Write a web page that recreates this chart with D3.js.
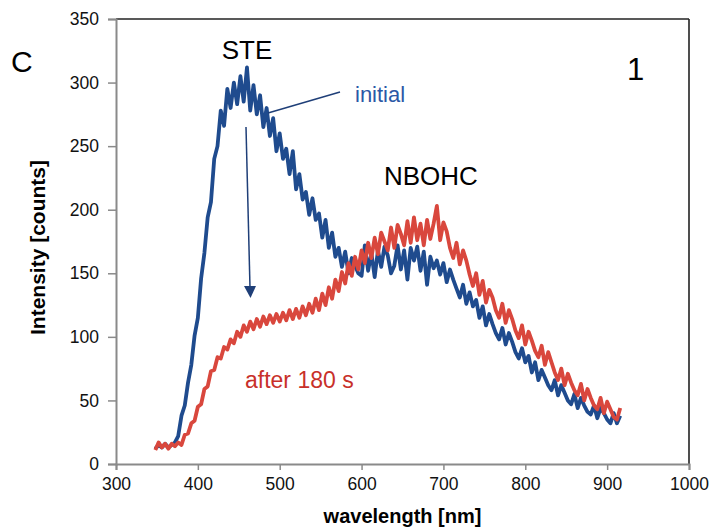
<!DOCTYPE html>
<html lang="en">
<head>
<meta charset="UTF-8">
<title>Spectrum C1</title>
<script src="https://d3js.org/d3.v7.min.js"></script>
<style>
    body { margin: 0; background: #fff; }
    text { font-family: "Liberation Sans", Arial, sans-serif; }
    .tick text { font-size: 17.5px; fill: #111; }
</style>
</head>
<body>
<div id="chart"></div>
<script>
    // sampling grid of the spectrometer, nm
    const wavelength = d3.range(348, 917, 4);

    // intensity before irradiation (counts)
    const initial = [
        12, 15, 13, 16, 13, 15, 17, 22, 38, 46, 64, 78, 101, 115, 146, 166, 194, 206, 240, 250,
        278, 266, 295, 280, 300, 283, 305, 285, 312, 278, 298, 275, 290, 265, 280, 258, 272, 246, 260, 240,
        248, 228, 246, 216, 228, 208, 214, 196, 209, 192, 197, 178, 192, 170, 182, 163, 170, 155, 167, 150,
        162, 156, 150, 148, 172, 152, 166, 147, 168, 155, 171, 164, 150, 156, 172, 153, 168, 145, 170, 160,
        171, 152, 167, 141, 163, 154, 160, 149, 158, 143, 153, 145, 138, 131, 141, 126, 135, 124, 129, 115,
        124, 109, 118, 110, 103, 98, 107, 94, 103, 96, 88, 83, 91, 80, 85, 72, 80, 66, 74, 68,
        62, 58, 66, 54, 62, 56, 50, 47, 55, 44, 52, 46, 41, 39, 46, 36, 44, 40, 35, 32,
        40, 32, 38
    ];

    // intensity after 180 s (counts)
    const after180 = [
        11, 17, 13, 16, 12, 16, 14, 17, 15, 23, 24, 32, 34, 45, 47, 59, 61, 73, 74, 84,
        83, 92, 90, 98, 95, 104, 100, 109, 104, 112, 106, 114, 108, 116, 110, 117, 111, 118, 112, 119,
        113, 121, 114, 122, 115, 124, 117, 126, 119, 130, 121, 134, 125, 139, 130, 145, 136, 151, 142, 158,
        148, 163, 153, 168, 158, 174, 162, 178, 165, 182, 175, 168, 186, 170, 188, 181, 172, 191, 174, 194,
        176, 189, 172, 192, 177, 189, 203, 176, 190, 183, 170, 162, 174, 157, 168, 160, 149, 140, 150, 133,
        144, 127, 137, 131, 121, 115, 126, 111, 121, 114, 105, 99, 109, 94, 104, 97, 89, 84, 93, 78,
        88, 80, 72, 66, 75, 62, 71, 64, 58, 54, 63, 50, 59, 52, 46, 43, 52, 40, 49, 43,
        37, 35, 44
    ];

    const xTicks = [300, 400, 500, 600, 700, 800, 900, 1000];
    const yTicks = [0, 50, 100, 150, 200, 250, 300, 350];

    const W = 716, H = 530;
    const margin = { top: 19, right: 27, bottom: 66, left: 116 };

    const svg = d3.select("#chart").append("svg")
        .attr("width", W)
        .attr("height", H);

    const x = d3.scaleLinear().domain([300, 1000]).range([margin.left, W - margin.right]);
    const y = d3.scaleLinear().domain([0, 350]).range([H - margin.bottom, margin.top]);

    // frame: top and right in black, axes in grey
    svg.append("line")
        .attr("x1", x(300)).attr("x2", x(1000))
        .attr("y1", y(350)).attr("y2", y(350))
        .attr("stroke", "#222").attr("stroke-width", 1.6);
    svg.append("line")
        .attr("x1", x(1000)).attr("x2", x(1000))
        .attr("y1", y(350)).attr("y2", y(0))
        .attr("stroke", "#222").attr("stroke-width", 1.6);

    const xAxis = svg.append("g")
        .attr("transform", `translate(0,${y(0)})`)
        .call(d3.axisBottom(x).tickValues(xTicks).tickFormat(d3.format("d")).tickSize(6).tickPadding(8));
    const yAxis = svg.append("g")
        .attr("transform", `translate(${x(300)},0)`)
        .call(d3.axisLeft(y).tickValues(yTicks).tickSize(8).tickPadding(9));

    [xAxis, yAxis].forEach(g => {
        g.select(".domain").attr("stroke", "#8a8a8a").attr("stroke-width", 2);
        g.selectAll(".tick line").attr("stroke", "#8a8a8a").attr("stroke-width", 1.5);
    });

    // spectra
    const line = d3.line()
        .x((d, i) => x(wavelength[i]))
        .y(d => y(d));

    svg.append("path")
        .datum(initial)
        .attr("fill", "none")
        .attr("stroke", "#1f4b8e")
        .attr("stroke-width", 3.8)
        .attr("stroke-linejoin", "round")
        .attr("d", line);

    svg.append("path")
        .datum(after180)
        .attr("fill", "none")
        .attr("stroke", "#d9473d")
        .attr("stroke-width", 3.8)
        .attr("stroke-linejoin", "round")
        .attr("d", line);

    // axis titles
    svg.append("text")
        .attr("x", (x(300) + x(1000)) / 2)
        .attr("y", 523)
        .attr("text-anchor", "middle")
        .attr("font-weight", "bold")
        .attr("font-size", 20)
        .text("wavelength [nm]");

    svg.append("text")
        .attr("transform", `translate(45,${(y(0) + y(350)) / 2 + 6}) rotate(-90)`)
        .attr("text-anchor", "middle")
        .attr("font-weight", "bold")
        .attr("font-size", 21)
        .text("Intensity [counts]");

    // annotations
    svg.append("text").attr("x", 11).attr("y", 72).attr("font-size", 30).text("C");
    svg.append("text").attr("x", 247).attr("y", 59).attr("text-anchor", "middle")
        .attr("font-size", 26).text("STE");
    svg.append("text").attr("x", 627).attr("y", 80).attr("font-size", 31).text("1");
    svg.append("text").attr("x", 384).attr("y", 185).attr("font-size", 26).text("NBOHC");

    svg.append("text").attr("x", 355).attr("y", 102)
        .attr("font-size", 22).attr("fill", "#2b58a6").text("initial");
    svg.append("line")
        .attr("x1", 268).attr("y1", 113).attr("x2", 340).attr("y2", 92)
        .attr("stroke", "#1f3f78").attr("stroke-width", 1.5);

    svg.append("text").attr("x", 245).attr("y", 388)
        .attr("font-size", 23).attr("fill", "#c8302a").text("after 180 s");

    // arrow from initial down to irradiated curve
    svg.append("line")
        .attr("x1", 246).attr("y1", 127).attr("x2", 250).attr("y2", 288)
        .attr("stroke", "#1f3f78").attr("stroke-width", 1.5);
    svg.append("path")
        .attr("d", "M244,286 L256,286 L250.5,298 Z")
        .attr("fill", "#1f3f78");
</script>
</body>
</html>
